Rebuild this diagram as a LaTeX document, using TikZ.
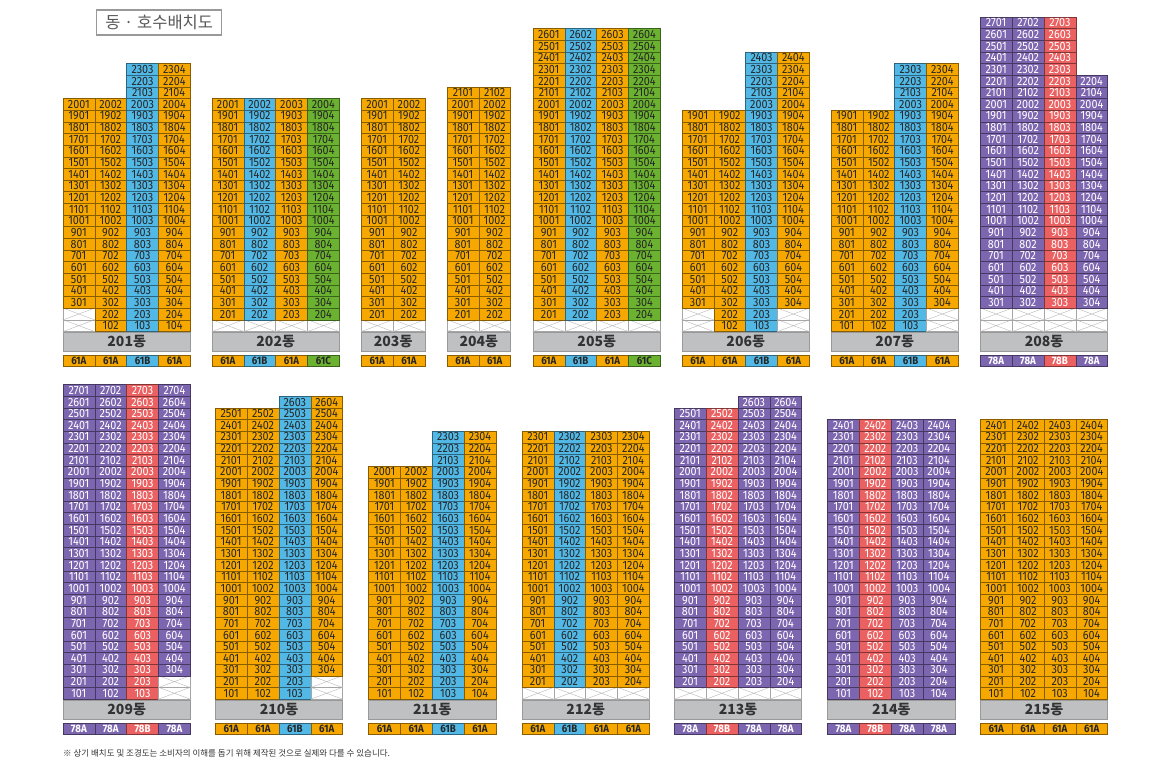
\documentclass[tikz,border=0pt]{standalone}
\usepackage{fontspec}
\setmainfont{Fira Sans}
\newfontfamily\cellfont{Fira Sans}[FakeStretch=0.9]
\newfontfamily\krfont{Noto Sans CJK KR}

\definecolor{c61A}{HTML}{F7A800}
\definecolor{c61B}{HTML}{52B8E6}
\definecolor{c61C}{HTML}{6AB22F}
\definecolor{c78A}{HTML}{7D66B0}
\definecolor{c78B}{HTML}{EB6060}
\colorlet{x61A}{black!85}
\colorlet{x61B}{black!85}
\colorlet{x61C}{black!85}
\colorlet{x78A}{white}
\colorlet{x78B}{white}
\definecolor{labelgray}{HTML}{BEC0C2}

\def\cw{31.85}
\def\fh{11.65}

\tikzset{
  unitcell/.style={anchor=south west, minimum width=\cw, minimum height=\fh,
    inner sep=0pt, line width=0.45pt, font=\cellfont\fontsize{12}{12}\selectfont},
  voidcell/.style={anchor=south west, minimum width=\cw, minimum height=\fh,
    inner sep=0pt, fill=white, draw=black!35, line width=0.45pt},
  xline/.style={black!28, line width=0.4pt},
  keycell/.style={anchor=north west, minimum width=\cw, minimum height=10.8,
    inner sep=0pt, line width=0.45pt, font=\cellfont\bfseries\fontsize{10.8}{10.8}\selectfont},
  donglabel/.style={anchor=north west, minimum height=18.6, inner sep=0pt,
    fill=labelgray, draw=black!40, line width=0.6pt, text=black!80,
    font=\krfont\bfseries\fontsize{14}{14}\selectfont},
}

% one building: x, floor-1 bottom, name, columns, type/lowest/highest per column
\newcommand\dongblock[5]{%
  \foreach \ty/\lof/\hif [count=\cn] in {#5}{
    \foreach \fl in {1,...,\hif}{
      \ifnum\fl<\lof
        \node[voidcell] (v#3-\fl\cn) at ({#1+(\cn-1)*\cw}, {#2-(\fl-1)*\fh}) {};
        \draw[xline] (v#3-\fl\cn.north west) -- (v#3-\fl\cn.south east)
                     (v#3-\fl\cn.south west) -- (v#3-\fl\cn.north east);
      \else
        \node[unitcell, fill=c\ty, draw=c\ty!55!black, text=x\ty]
          (u#3-\fl0\cn) at ({#1+(\cn-1)*\cw}, {#2-(\fl-1)*\fh}) {\fl0\cn};
      \fi
    }
    \node[keycell, fill=c\ty, draw=c\ty!55!black, text=x\ty]
      (k#3-\cn) at ({#1+(\cn-1)*\cw}, {#2+23.7}) {\ty};
  }
  \node[donglabel, minimum width=#4*\cw] (d#3) at (#1, #2+0.6) {#3동};
}

\begin{document}
\begin{tikzpicture}[x=1pt, y=-1pt]
    \useasboundingbox[fill=white] (0,0) rectangle (1170,782);

    % title
    \node[draw=black!40, line width=1.5pt, minimum width=125, minimum height=25,
      inner sep=0pt, text=black!65, font=\krfont\fontsize{16.5}{16.5}\selectfont]
      (title) at (159.2,22.5) {동 · 호수배치도};

    % upper row
    \dongblock{62.7}{331.7}{201}{4}{61A/3/20,61A/1/20,61B/1/23,61A/1/23}
    \dongblock{211.7}{331.7}{202}{4}{61A/2/20,61B/2/20,61A/2/20,61C/2/20}
    \dongblock{361}{331.7}{203}{2}{61A/2/20,61A/2/20}
    \dongblock{446.7}{331.7}{204}{2}{61A/2/21,61A/2/21}
    \dongblock{532.7}{331.7}{205}{4}{61A/2/26,61B/2/26,61A/2/26,61C/2/26}
    \dongblock{681.7}{331.7}{206}{4}{61A/3/19,61A/1/19,61B/1/24,61A/3/24}
    \dongblock{830.7}{331.7}{207}{4}{61A/1/19,61A/1/19,61B/1/23,61A/3/23}
    \dongblock{980}{331.7}{208}{4}{78A/3/27,78A/3/27,78B/3/27,78A/3/22}

    % lower row
    \dongblock{62.7}{699.3}{209}{4}{78A/1/27,78A/1/27,78B/1/27,78A/3/27}
    \dongblock{215}{699.3}{210}{4}{61A/1/25,61A/1/25,61B/1/26,61A/3/26}
    \dongblock{368.3}{699.3}{211}{4}{61A/1/20,61A/1/20,61B/1/23,61A/1/23}
    \dongblock{521.7}{699.3}{212}{4}{61A/2/23,61B/2/23,61A/2/23,61A/2/23}
    \dongblock{674}{699.3}{213}{4}{78A/2/25,78B/2/25,78A/2/26,78A/2/26}
    \dongblock{827.3}{699.3}{214}{4}{78A/1/24,78B/1/24,78A/1/24,78A/1/24}
    \dongblock{980}{699.3}{215}{4}{61A/1/24,61A/1/24,61A/1/24,61A/1/24}

    % note
    \node[anchor=west, inner sep=0pt, text=black!80, font=\krfont\fontsize{8.5}{10}\selectfont]
      (note) at (63,753.5) {※ 상기 배치도 및 조경도는 소비자의 이해를 돕기 위해 제작된 것으로 실제와 다를 수 있습니다.};
\end{tikzpicture}
\end{document}
